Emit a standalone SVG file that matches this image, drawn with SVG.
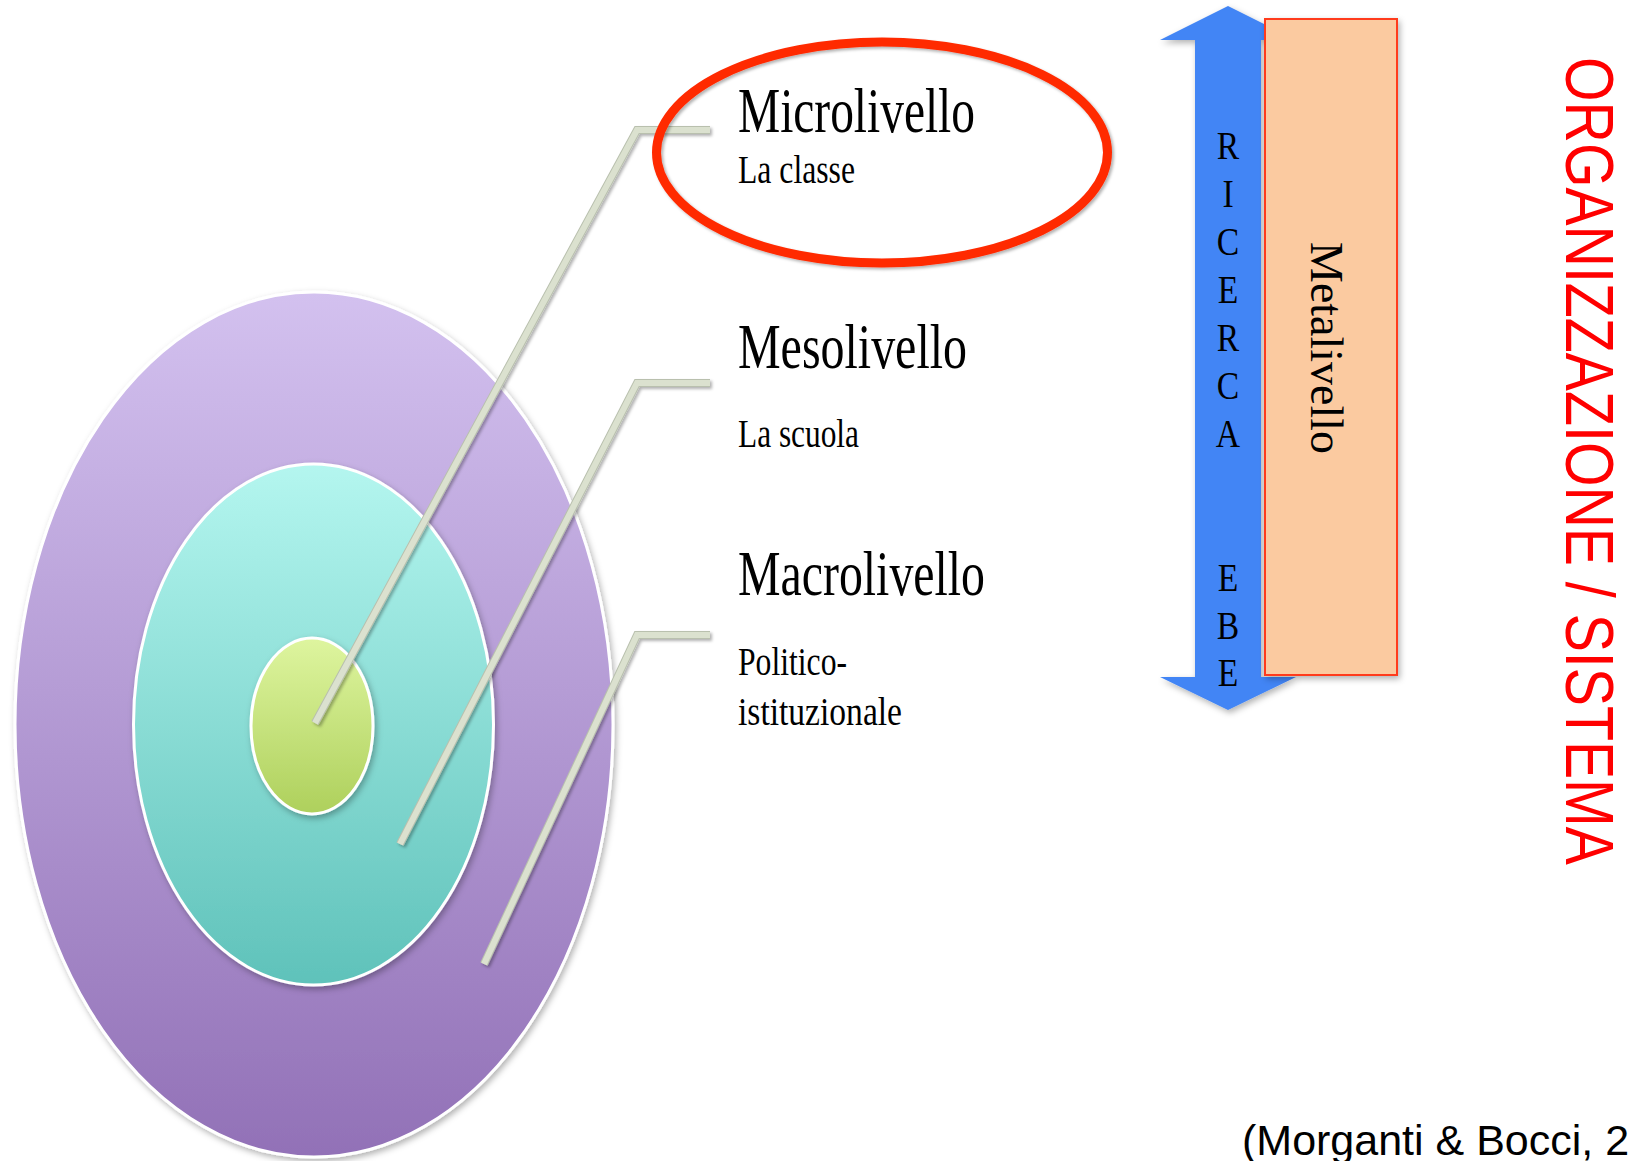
<svg xmlns="http://www.w3.org/2000/svg" width="1631" height="1161" viewBox="0 0 1631 1161">
<defs>
  <linearGradient id="gOuter" x1="0" y1="0" x2="0" y2="1">
    <stop offset="0" stop-color="#d3c1ef"/>
    <stop offset="1" stop-color="#9271b7"/>
  </linearGradient>
  <linearGradient id="gMid" x1="0" y1="0" x2="0" y2="1">
    <stop offset="0" stop-color="#b4f6ef"/>
    <stop offset="1" stop-color="#5fc2ba"/>
  </linearGradient>
  <linearGradient id="gInner" x1="0" y1="0" x2="0" y2="1">
    <stop offset="0" stop-color="#def59f"/>
    <stop offset="1" stop-color="#aed05c"/>
  </linearGradient>
  <filter id="shadow" x="-10%" y="-10%" width="120%" height="120%">
    <feDropShadow dx="2" dy="3" stdDeviation="3" flood-color="#000" flood-opacity="0.3"/>
  </filter>
  <filter id="lshadow" x="-10%" y="-10%" width="130%" height="130%">
    <feDropShadow dx="2" dy="2" stdDeviation="1.5" flood-color="#000" flood-opacity="0.3"/>
  </filter>
</defs>
<style>
  .ring { stroke: #ffffff; stroke-width: 3; }
  .conn { fill: none; stroke-linejoin: miter; stroke-linecap: butt; }
  .connEdge { stroke: #b9c0ae; stroke-width: 8; }
  .connFill { stroke: #dbe1cf; stroke-width: 6; }
  .title { font-family: "Liberation Serif", "DejaVu Serif", serif; font-size: 64px; fill: #000; }
  .sub { font-family: "Liberation Serif", "DejaVu Serif", serif; font-size: 41px; fill: #000; }
  .letter { font-family: "Liberation Serif", "DejaVu Serif", serif; font-size: 41px; fill: #000; text-anchor: middle; }
</style>

<rect width="1631" height="1161" fill="#ffffff"/>

<g id="rings">
  <ellipse cx="314" cy="724.5" rx="299" ry="432.5" fill="url(#gOuter)" class="ring" filter="url(#shadow)"/>
  <ellipse cx="313.5" cy="724.5" rx="180" ry="260.5" fill="url(#gMid)" class="ring" filter="url(#shadow)"/>
  <ellipse cx="312" cy="726" rx="61" ry="88" fill="url(#gInner)" class="ring" filter="url(#shadow)"/>
</g>

<g id="connectors" filter="url(#lshadow)">
  <polyline class="conn connEdge" points="315,723 637,130 710,130"/>
  <polyline class="conn connEdge" points="400,844 637,383 710,383"/>
  <polyline class="conn connEdge" points="484,964 637,635 710,635"/>
  <polyline class="conn connFill" points="315,723 637,130 710,130"/>
  <polyline class="conn connFill" points="400,844 637,383 710,383"/>
  <polyline class="conn connFill" points="484,964 637,635 710,635"/>
</g>

<g id="micro">
  <text class="title" x="738" y="132" textLength="237" lengthAdjust="spacingAndGlyphs">Microlivello</text>
  <text class="sub" x="738" y="183" textLength="117" lengthAdjust="spacingAndGlyphs">La classe</text>
</g>

<g id="meso">
  <text class="title" x="738" y="368" textLength="229" lengthAdjust="spacingAndGlyphs">Mesolivello</text>
  <text class="sub" x="738" y="447" textLength="121" lengthAdjust="spacingAndGlyphs">La scuola</text>
</g>

<g id="macro">
  <text class="title" x="738" y="595" textLength="247" lengthAdjust="spacingAndGlyphs">Macrolivello</text>
  <text class="sub" x="738" y="675" textLength="109" lengthAdjust="spacingAndGlyphs">Politico-</text>
  <text class="sub" x="738" y="725" textLength="164" lengthAdjust="spacingAndGlyphs">istituzionale</text>
</g>

<g id="highlight">
  <ellipse cx="882" cy="152.5" rx="225.5" ry="110.5" fill="none" stroke="#ff2a00" stroke-width="9" filter="url(#lshadow)"/>
</g>

<g id="arrow">
  <polygon points="1228,6 1296,40 1261,40 1261,677 1296,677 1228,710 1160,677 1195,677 1195,40 1160,40" fill="#4285f5" filter="url(#shadow)"/>
  <g transform="translate(1228 0) scale(0.82 1)">
    <text class="letter" x="0" y="159">R</text>
    <text class="letter" x="0" y="207">I</text>
    <text class="letter" x="0" y="255">C</text>
    <text class="letter" x="0" y="303">E</text>
    <text class="letter" x="0" y="351">R</text>
    <text class="letter" x="0" y="399">C</text>
    <text class="letter" x="0" y="447">A</text>
    <text class="letter" x="0" y="591">E</text>
    <text class="letter" x="0" y="639">B</text>
    <text class="letter" x="0" y="686">E</text>
  </g>
</g>

<g id="meta">
  <rect x="1265" y="19" width="132" height="656" fill="#fbcaa0" stroke="#ff3a1a" stroke-width="2" filter="url(#shadow)"/>
  <text transform="translate(1311 242) rotate(90)" x="0" y="0" font-family="Liberation Serif, DejaVu Serif, serif" font-size="47" fill="#000" textLength="212" lengthAdjust="spacingAndGlyphs">Metalivello</text>
</g>

<g id="org">
  <text transform="translate(1566 57) rotate(90)" x="0" y="0" font-family="Liberation Sans, Arial, sans-serif" font-size="68" fill="#ff0000" textLength="808" lengthAdjust="spacingAndGlyphs">ORGANIZZAZIONE / SISTEMA</text>
</g>

<g id="citation">
  <text x="1242" y="1155" font-family="Liberation Sans, Arial, sans-serif" font-size="43" fill="#000">(Morganti &amp; Bocci, 2</text>
</g>
</svg>
